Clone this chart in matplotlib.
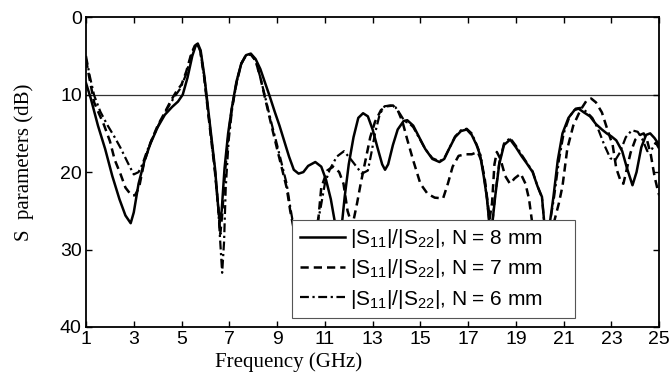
import numpy as np
import matplotlib
matplotlib.use("Agg")
import matplotlib.pyplot as plt

# frequency (GHz) / |S11|,|S22| (dB), N = 8 mm
freq_8mm = [1.0, 1.2, 1.5, 1.8, 2.1, 2.4, 2.65, 2.87, 3.0, 3.2, 3.45, 3.7, 4.0, 4.3, 4.6,
            4.85, 5.05, 5.25, 5.45, 5.6, 5.68, 5.8, 5.95, 6.1, 6.25, 6.4, 6.52, 6.6, 6.68,
            6.8, 6.95, 7.1, 7.3, 7.5, 7.7, 7.9, 8.1, 8.3, 8.5, 8.7, 8.9, 9.1, 9.3, 9.5, 9.7,
            9.9, 10.1, 10.3, 10.6, 10.85, 11.05, 11.25, 11.45, 11.6, 11.72, 11.83, 12.0,
            12.2, 12.4, 12.6, 12.8, 13.0, 13.2, 13.4, 13.52, 13.65, 13.85, 14.05, 14.3,
            14.45, 14.7, 14.95, 15.2, 15.5, 15.8, 16.0, 16.2, 16.45, 16.7, 16.94, 17.15,
            17.35, 17.5, 17.65, 17.78, 17.9, 18.0, 18.13, 18.3, 18.5, 18.76, 19.0, 19.25,
            19.46, 19.7, 19.9, 20.09, 20.2, 20.4, 20.57, 20.75, 20.95, 21.2, 21.45, 21.62,
            21.85, 22.1, 22.35, 22.6, 22.8, 23.0, 23.2, 23.45, 23.65, 23.88, 24.05, 24.25,
            24.45, 24.62, 24.8, 25.0]
s_8mm = [8.5, 10.5, 14.0, 17.0, 20.5, 23.5, 25.6, 26.6, 25.2, 21.5, 18.5, 16.3, 14.2, 12.6,
         11.6, 10.9, 10.0, 7.8, 5.0, 3.6, 3.4, 4.3, 7.5, 11.5, 15.5, 19.5, 24.0, 26.5, 25.0,
         19.5, 15.0, 11.8, 8.3, 6.0, 4.9, 4.7, 5.4, 6.7, 8.5, 10.3, 12.2, 14.0, 16.0, 18.0,
         19.7, 20.2, 20.0, 19.2, 18.7, 19.3, 21.0, 23.5, 27.0, 28.0, 26.5, 23.2, 19.0,
         15.5, 13.0, 12.4, 12.8, 14.5, 16.8, 19.0, 19.7, 19.0, 16.5, 14.5, 13.4,
         13.3, 14.0, 15.5, 17.0, 18.3, 18.7, 18.3, 17.0, 15.5, 14.7, 14.5, 15.2,
         16.5, 17.8, 20.5, 23.2, 27.0, 27.0, 23.2, 19.0, 16.5, 15.8, 16.8, 18.0,
         18.9, 20.0, 21.8, 23.2, 27.0, 27.0, 23.2, 18.5, 15.0, 13.0, 12.0, 11.8,
         12.3, 12.8, 13.8, 14.5, 15.0, 15.4, 15.9, 17.3, 19.5, 21.7, 20.0, 16.8,
         15.2, 15.0, 15.6, 16.5]

# N = 7 mm
freq_7mm = [1.0, 1.15, 1.34, 1.55, 1.75, 2.0, 2.2, 2.45, 2.65, 2.9, 3.05, 3.22, 3.43, 3.7,
            4.0, 4.3, 4.55, 4.8, 5.0, 5.2, 5.4, 5.55, 5.65, 5.78, 5.95, 6.1, 6.25, 6.4, 6.55,
            6.62, 6.7, 6.82, 6.97, 7.12, 7.3, 7.5, 7.7, 7.9, 8.1, 8.3, 8.5, 8.75, 9.0, 9.2,
            9.4, 9.55, 9.8, 10.3, 10.7, 10.85, 11.1, 11.35, 11.6, 11.78, 11.95, 12.15, 12.35,
            12.5, 12.7, 12.9, 13.1, 13.35, 13.6, 13.85, 14.05, 14.25, 14.45, 14.7, 15.0,
            15.3, 15.6, 15.95, 16.15, 16.35, 16.6, 16.9, 17.15, 17.4, 17.55, 17.7, 17.8,
            17.9, 18.0, 18.1, 18.2, 18.35, 18.55, 18.75, 18.95, 19.2, 19.4, 19.55, 19.7,
            20.3, 20.8, 20.95, 21.15, 21.4, 21.7, 21.95, 22.15, 22.35, 22.6, 22.85, 23.05,
            23.2, 23.4, 23.5, 23.65, 23.8, 24.0, 24.2, 24.35, 24.5, 24.65, 24.8, 24.95, 25.0]
s_7mm = [5.5, 8.0, 11.0, 12.5, 13.9, 16.0, 18.4, 20.3, 22.0, 23.0, 23.0, 22.0, 18.8, 16.2,
         14.0, 12.3, 10.8, 9.5, 8.7, 7.0, 4.8, 3.7, 3.5, 4.3, 7.8, 12.0, 16.0, 20.0, 25.0,
         28.0, 25.5, 20.0, 15.0, 11.5, 8.5, 6.0, 4.9, 4.8, 5.6, 7.8, 10.5, 13.8, 17.0, 19.5,
         22.0, 25.0, 29.0, 30.0, 27.0, 22.0, 19.8, 19.3, 20.0, 21.5, 25.0, 27.0, 24.0,
         21.5, 18.5, 15.5, 13.5, 12.0, 11.5, 11.4, 12.0, 13.5, 15.8, 18.5, 21.5,
         22.8, 23.3, 23.4, 21.5, 19.3, 17.9, 17.7, 17.7, 17.4, 18.5, 21.0, 23.5,
         26.0, 24.0, 19.0, 17.4, 18.3, 20.5, 21.5, 20.8, 20.2, 21.5, 23.5, 27.0,
         30.0, 24.0, 21.8, 17.0, 14.0, 12.0, 10.8, 10.5, 11.0, 12.3, 14.7, 16.5,
         19.5, 21.3, 21.5, 19.5, 17.5, 15.8, 15.2, 15.0, 16.0, 17.8, 20.5, 22.5, 23.0]

# N = 6 mm
freq_6mm = [1.0, 1.15, 1.34, 1.6, 1.89, 2.2, 2.45, 2.75, 3.0, 3.2, 3.36, 3.55, 3.8, 4.1, 4.4,
            4.7, 4.95, 5.2, 5.4, 5.55, 5.65, 5.78, 5.95, 6.1, 6.25, 6.4, 6.52, 6.62, 6.7,
            6.78, 6.85, 6.97, 7.12, 7.3, 7.5, 7.7, 7.9, 8.1, 8.3, 8.5, 8.75, 9.0, 9.2, 9.4,
            9.55, 9.8, 10.4, 10.8, 11.0, 11.2, 11.5, 11.8, 12.05, 12.3, 12.55, 12.8, 12.95,
            13.1, 13.3, 13.5, 13.75, 13.95, 14.15, 14.35, 14.5, 14.7, 14.95, 15.2, 15.5,
            15.8, 16.0, 16.2, 16.45, 16.7, 16.94, 17.15, 17.35, 17.5, 17.65, 17.78, 17.9,
            18.0, 18.13, 18.3, 18.5, 18.76, 19.0, 19.25, 19.46, 19.7, 19.9, 20.09, 20.2,
            20.4, 20.6, 20.8, 21.0, 21.25, 21.5, 21.7, 21.95, 22.2, 22.45, 22.7, 22.95,
            23.15, 23.35, 23.6, 23.85, 24.1, 24.3, 24.5, 24.7, 24.85, 25.0]
s_6mm = [5.0, 7.5, 10.1, 12.2, 13.9, 15.5, 16.9, 18.8, 20.3, 20.0, 19.0, 17.3, 15.5, 13.5,
         11.8, 10.3, 9.2, 7.3, 5.0, 3.8, 3.5, 4.3, 7.6, 11.8, 15.8, 19.8, 24.0, 29.0, 33.0,
         29.0, 22.0, 16.0, 11.8, 8.5, 6.0, 4.9, 4.8, 5.6, 7.8, 10.3, 13.5, 16.5, 19.0, 21.5,
         24.5, 29.0, 30.0, 25.0, 21.5, 19.7, 18.0, 17.3, 18.2, 19.2, 20.2, 19.8, 17.5,
         15.0, 12.5, 11.5, 11.4, 11.6, 12.5, 13.5, 13.6, 14.2, 15.6, 17.0, 18.2,
         18.6, 18.2, 17.0, 15.4, 14.6, 14.4, 15.0, 16.4, 17.6, 20.3, 23.2, 27.0,
         27.0, 23.0, 18.8, 16.3, 15.6, 16.6, 17.8, 18.8, 19.9, 21.8, 23.3, 27.0,
         27.0, 23.2, 18.5, 15.0, 12.8, 11.8, 11.7, 12.2, 13.0, 14.5, 16.5, 18.2,
         18.5, 17.5, 15.5, 14.6, 14.8, 15.8, 17.3, 17.0, 16.2, 17.0]

labels = [r"|S$_{11}$|/|S$_{22}$|, N = 8 mm",
          r"|S$_{11}$|/|S$_{22}$|, N = 7 mm",
          r"|S$_{11}$|/|S$_{22}$|, N = 6 mm"]
x_ticks = list(range(1, 26, 2))
y_ticks = [0, 10, 20, 30, 40]
threshold = 10

plt.rcParams["font.family"] = ["Liberation Sans", "DejaVu Sans"]
plt.rcParams["mathtext.fontset"] = "custom"
plt.rcParams["mathtext.rm"] = "Liberation Sans"

fig = plt.figure(figsize=(6.72, 3.82), dpi=100)
ax = fig.add_axes([0.128, 0.144, 0.853, 0.811])

ax.axhline(threshold, color="#333333", lw=0.9, zorder=1)
ax.plot(freq_8mm, s_8mm, color="black", lw=1.8, ls="-", label=labels[0])
ax.plot(freq_7mm, s_7mm, color="black", lw=1.8, ls=(0, (3.3, 2.0)), label=labels[1])
ax.plot(freq_6mm, s_6mm, color="black", lw=1.6, ls=(0, (4.0, 1.6, 1.0, 1.6)), label=labels[2])

ax.set_xlim(1, 25)
ax.set_ylim(40, 0)
ax.set_xticks(x_ticks)
ax.set_yticks(y_ticks)
ax.tick_params(direction="in", length=4, width=1, top=True, right=True,
               labelsize=14, pad=3)
for s in ax.spines.values():
    s.set_linewidth(1.3)

ax.set_xlabel("Frequency (GHz)", family="Liberation Serif", fontsize=15)
ax.xaxis.set_label_coords(0.354, -0.113, transform=ax.transAxes)
ax.xaxis.label.set_va("center")
ax.set_ylabel("S  parameters (dB)", family="Liberation Serif", fontsize=15)
ax.yaxis.set_label_coords(-0.108, 0.53, transform=ax.transAxes)
ax.yaxis.label.set_va("center")

leg = ax.legend(loc="lower left", bbox_to_anchor=(0.36, 0.029, 0.493, 0.387),
                mode="expand", fontsize=15, handlelength=2.2, labelspacing=0.35,
                borderpad=0.35, handletextpad=0.2, fancybox=False, framealpha=1,
                borderaxespad=0)
leg.get_frame().set_edgecolor("#555555")
leg.get_frame().set_linewidth(0.8)

fig.savefig("out.png", dpi=100)
